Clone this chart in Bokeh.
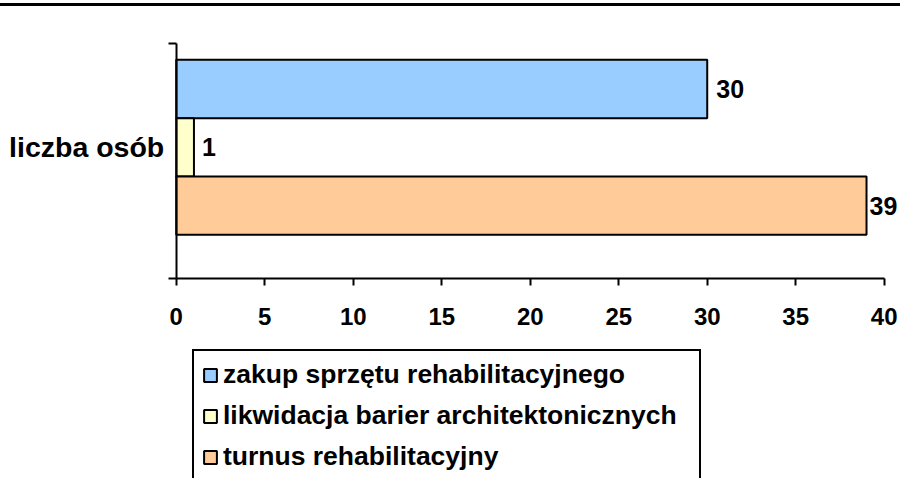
from bokeh.plotting import figure
from bokeh.models import ColumnDataSource, Range1d, FixedTicker, Legend, LegendItem
from bokeh.embed import file_html
from bokeh.resources import INLINE
from bokeh.core.properties import value

# ---- data ----
category = "liczba osób"
series = ["zakup sprzętu rehabilitacyjnego",
          "likwidacja barier architektonicznych",
          "turnus rehabilitacyjny"]
values = [30, 1, 39]
colors = ["#99CCFF", "#FFFFCC", "#FFCC99"]
x_ticks = [0, 5, 10, 15, 20, 25, 30, 35, 40]

FONT = "Liberation Sans"

# value axis span and category band (bars sit at 1, 0, -1 inside the band)
x_lo, x_hi = 0, 40
y_lo, y_hi = -2.25, 1.78
# visible window around them (the frame fills the whole canvas)
view_x = (-9.93, 40.92)
view_y = (-5.68, 2.415)

p = figure(width=900, height=472, output_backend="svg", toolbar_location=None,
           x_range=Range1d(*view_x), y_range=Range1d(*view_y),
           min_border_left=0, min_border_right=0, min_border_top=0,
           min_border_bottom=0)
p.styles = {"margin-top": "3px", "border-top": "3px solid black"}
p.outline_line_color = None
p.xgrid.visible = False
p.ygrid.visible = False

items = []
pos = []
for i, (name, v, c) in enumerate(zip(series, values, colors)):
    y = 1 - i
    pos.append(y)
    src = ColumnDataSource(dict(y=[y], x=[v]))
    r = p.hbar(y="y", left=0, right="x", height=1.0, source=src,
               fill_color=c, line_color="black", line_width=2)
    items.append(LegendItem(label=name, renderers=[r]))

label_offsets = [9, 8, 3]
p.text(x=values, y=pos, text=[str(v) for v in values], x_offset=label_offsets,
       text_font=value(FONT), text_font_style="bold", text_font_size="25px",
       text_baseline="middle", text_align="left", text_color="black")

# x axis (drawn at the bottom of the category band)
xa = p.xaxis[0]
xa.fixed_location = y_lo
xa.bounds = (x_lo, x_hi)
xa.ticker = FixedTicker(ticks=x_ticks, minor_ticks=[])
xa.axis_line_width = 2
xa.axis_line_color = "black"
xa.major_tick_line_width = 2
xa.major_tick_line_color = "black"
xa.major_tick_out = 7
xa.major_tick_in = 0
xa.minor_tick_line_color = None
xa.major_label_text_font = FONT
xa.major_label_text_font_style = "bold"
xa.major_label_text_font_size = "24px"
xa.major_label_text_color = "black"
xa.major_label_standoff = 22

# y axis (at x = 0, only over the category band)
ya = p.yaxis[0]
ya.fixed_location = x_lo
ya.bounds = (y_lo, y_hi)
ya.ticker = FixedTicker(ticks=[0], minor_ticks=[y_lo, y_hi])
ya.major_label_overrides = {0: category}
ya.axis_line_width = 2
ya.axis_line_color = "black"
ya.major_tick_line_color = None
ya.major_tick_out = 0
ya.major_tick_in = 0
ya.minor_tick_line_color = "black"
ya.minor_tick_line_width = 2
ya.minor_tick_out = 8
ya.minor_tick_in = 0
ya.major_label_text_font = FONT
ya.major_label_text_font_style = "bold"
ya.major_label_text_font_size = "28.5px"
ya.major_label_text_color = "black"
ya.major_label_standoff = 4

legend = Legend(items=items, location=(192, -4),
                label_text_font=FONT, label_text_font_style="bold",
                label_text_font_size="26.5px", label_text_color="black",
                glyph_width=16, glyph_height=16,
                label_standoff=5, padding=8, spacing=10, margin=0,
                label_width=468,
                border_line_color="black", border_line_width=2.5,
                border_line_alpha=1.0,
                background_fill_color="white", background_fill_alpha=1)
p.add_layout(legend, "center")

open("out.html", "w").write(file_html(p, INLINE))
